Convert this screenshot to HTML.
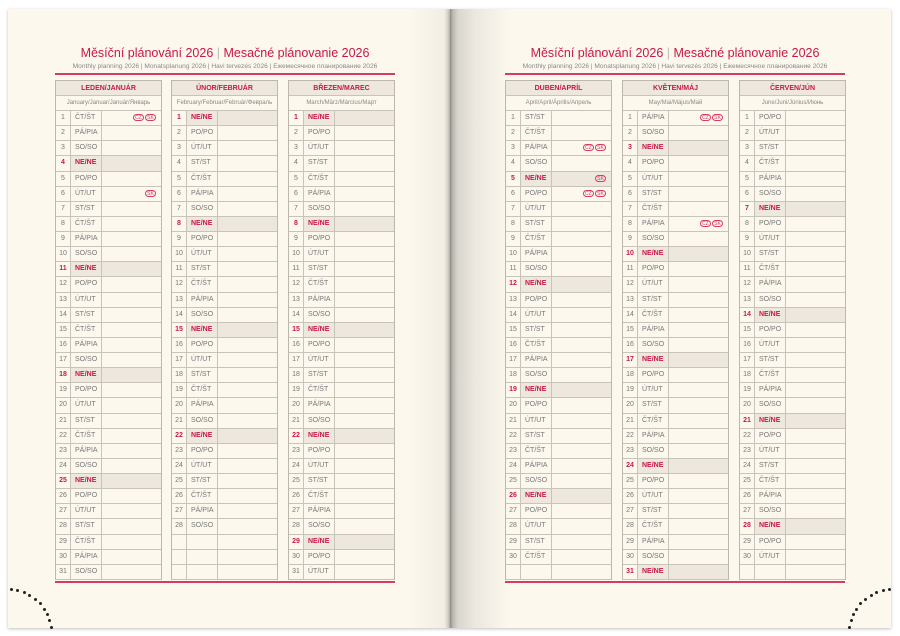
<!DOCTYPE html>
<html><head><meta charset="utf-8"><style>
*{margin:0;padding:0;box-sizing:border-box}
body{width:900px;height:636px;background:#fff;position:relative;overflow:hidden;font-family:"Liberation Sans Narrow","Liberation Sans","Noto Sans CJK SC",sans-serif}
.page{position:absolute;top:9px;height:619px;background:#fdf8ee;box-shadow:0 1px 3px rgba(0,0,0,.25)}
#L{left:8px;width:442px;background:linear-gradient(90deg,#fdf8ee 0,#fdf8ee 400px,#f3eee4 436px,#c9c5bd 442px)}
#R{left:450px;width:441px;background:linear-gradient(90deg,#8f8c86 0,#bdbab3 3px,#d9d6ce 8px,#ece8df 25px,#fdf8ee 60px)}
.t1{position:absolute;top:46px;width:340px;text-align:center;color:#c8174a;font-size:12.5px}
.t1 span{color:#bbb}
.t2{position:absolute;top:63px;width:340px;text-align:center;color:#888;font-size:6.6px;white-space:nowrap}
.rl{position:absolute;height:2px;background:#d63a66;width:340px}
.tb{position:absolute;top:80px;width:107px;border:1px solid #bdb8ad;border-bottom:none}
.h1,.h2{height:15px;text-align:center;font-size:7px;line-height:15px;border-bottom:1px solid #c9c4b9}
.h1{background:#ede7de;color:#c8174a;font-weight:bold}
.h2{color:#888;font-size:6px}
.r{height:15.13px;display:flex;border-bottom:1px solid #c9c4b9;font-size:7px;color:#777;line-height:14px}
.r .n{width:15px;text-align:center;border-right:1px solid #c9c4b9}
.r .d{width:31px;padding-left:4px;border-right:1px solid #c9c4b9}
.r .x{flex:1;text-align:right;padding-right:5px;font-size:5px;color:#d63a66}
.r.s .n{color:#c8174a;font-weight:bold}
.r.s .d,.r.s .x{background:#ede7de}
.r.s .d{color:#c8174a;font-weight:bold}
.ic{display:inline-block;border:1px solid #d63a66;border-radius:4px;width:11px;height:7px;line-height:6px;text-align:center;margin-left:1px}
.dot{position:absolute;width:3px;height:3px;border-radius:50%;background:#222}
</style></head><body>
<div class="page" id="L"></div>
<div class="page" id="R"></div>
<div class="t1" style="left:55px">Měsíční plánování 2026 <span>|</span> Mesačné plánovanie 2026</div>
<div class="t2" style="left:55px">Monthly planning 2026 | Monatsplanung 2026 | Havi tervezés 2026 | Ежемесячное планирование 2026</div>
<div class="rl" style="left:55px;top:73px"></div>
<div class="rl" style="left:55px;top:581px"></div>
<div class="t1" style="left:505px">Měsíční plánování 2026 <span>|</span> Mesačné plánovanie 2026</div>
<div class="t2" style="left:505px">Monthly planning 2026 | Monatsplanung 2026 | Havi tervezés 2026 | Ежемесячное планирование 2026</div>
<div class="rl" style="left:505px;top:73px"></div>
<div class="rl" style="left:505px;top:581px"></div>
<div id="c"></div>
<script>
var M=[["LEDEN/JANUÁR","January/Januar/Január/Январь",55],["ÚNOR/FEBRUÁR","February/Februar/Február/Февраль",171],["BŘEZEN/MAREC","March/März/Március/Март",288],["DUBEN/APRÍL","April/April/Április/Апрель",505],["KVĚTEN/MÁJ","May/Mai/Május/Май",622],["ČERVEN/JÚN","June/Juni/Június/Июнь",739]];
var D=["NE/NE","PO/PO","ÚT/UT","ST/ST","ČT/ŠT","PÁ/PIA","SO/SO"];
var I={"0-1":"CZ SK","0-6":"SK","3-3":"CZ SK","3-5":"SK","3-6":"CZ SK","4-1":"CZ SK","4-8":"CZ SK"};
var h="";
M.forEach(function(m,i){
 h+='<div class="tb" style="left:'+m[2]+'px"><div class="h1">'+m[0]+'</div><div class="h2">'+m[1]+'</div>';
 var nd=new Date(2026,i+1,0).getDate();
 for(var d=1;d<=31;d++){
  if(d>nd){h+='<div class="r"><div class="n"></div><div class="d"></div><div class="x"></div></div>';continue;}
  var w=new Date(2026,i,d).getDay();
  var ic=I[i+"-"+d]||"";
  var s=ic?ic.split(" ").map(function(t){return '<span class="ic">'+t+'</span>'}).join(""):"";
  h+='<div class="r'+(w==0?' s':'')+'"><div class="n">'+d+'</div><div class="d">'+D[w]+'</div><div class="x">'+s+'</div></div>';
 }
 h+='</div>';
});
function arc(cx,cy,r,a0,a1,n){for(var k=0;k<n;k++){var a=(a0+(a1-a0)*k/(n-1))*Math.PI/180;h+='<div class="dot" style="left:'+(cx+r*Math.cos(a))+'px;top:'+(cy+r*Math.sin(a))+'px"></div>'}}
arc(6,632,44,-85,-8,10);
arc(892,632,44,-95,-172,10);
document.getElementById("c").innerHTML=h;
</script>
</body></html>
